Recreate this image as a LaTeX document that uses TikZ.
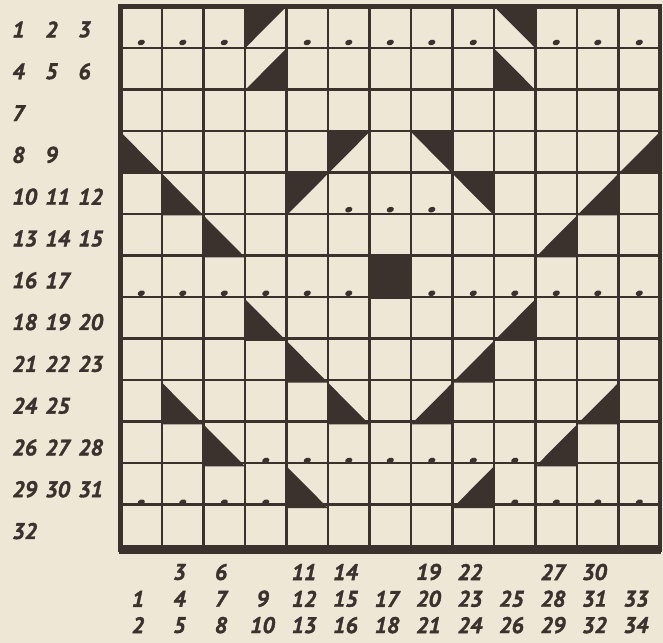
\documentclass[tikz,border=0pt]{standalone}
\usepackage{fontspec}
\newfontfamily\wvhand{PT Sans Bold Italic}[FakeBold=1.6]
\usepackage{tikz}
\definecolor{wvink}{HTML}{3C322D}
\definecolor{wvpaper}{HTML}{EEE7D6}

\begin{document}
\begin{tikzpicture}[x=1cm,y=1.0072cm,
  num/.style={font=\fontsize{15.5}{15.5}\selectfont\wvhand,text=wvink,inner sep=0pt}]
  \fill[wvpaper] (-2.904,0.1555) rectangle (13.072,-15.227);
  \useasboundingbox (-2.904,0.1555) rectangle (13.072,-15.227);
  % half squares
  \foreach \c/\r in {3/0,5/3,4/4}{\fill[wvink] (\c,-\r) -- (\c+1,-\r) -- (\c,-\r-1) -- cycle;}
  \foreach \c/\r in {9/0,7/3,8/4}{\fill[wvink] (\c,-\r) -- (\c+1,-\r) -- (\c+1,-\r-1) -- cycle;}
  \foreach \c/\r in {9/1,0/3,1/4,2/5,3/7,4/8,1/9,5/9,2/10,4/11}{\fill[wvink] (\c,-\r) -- (\c,-\r-1) -- (\c+1,-\r-1) -- cycle;}
  \foreach \c/\r in {3/1,12/3,11/4,10/5,9/7,8/8,7/9,11/9,10/10,8/11}{\fill[wvink] (\c+1,-\r) -- (\c+1,-\r-1) -- (\c,-\r-1) -- cycle;}
  \fill[wvink] (6,-6) rectangle (7,-7);
  \draw[wvink,line width=2pt] (0,0) grid (13,-13);
  \draw[wvink,line width=3pt] (0,0) rectangle (13,-13);
  \draw[wvink,line width=4.5pt] (-0.03,-13.02) -- (13.03,-13.02);
  % dots
  \foreach \r/\cols in {0/{0,1,2,4,5,6,7,8,10,11,12},4/{5,6,7},6/{0,1,2,3,4,5,7,8,9,10,11,12},10/{3,4,5,6,7,8,9},11/{0,1,2,3,9,10,11,12}}{
    \foreach \c in \cols {\fill[wvink,rotate around={20:(\c+0.5,-\r-0.86)}] (\c+0.5,-\r-0.86) ellipse (0.09 and 0.065);}
  }
  % row numbers
  \foreach \r/\a/\b/\d in {0/1/2/3,1/4/5/6,2/7//,3/8/9/,4/10/11/12,5/13/14/15,6/16/17/,7/18/19/20,8/21/22/23,9/24/25/,10/26/27/28,11/29/30/31,12/32//}{
    \node[num,anchor=west] (ra\r) at (-2.614,-\r-0.55) {\a};
    \node[num,anchor=west] (rb\r) at (-1.819,-\r-0.55) {\b};
    \node[num,anchor=west] (rc\r) at (-1.024,-\r-0.55) {\d};
  }
  % column numbers
  \foreach \c/\a/\b/\d in {0//1/2,1/3/4/5,2/6/7/8,3//9/10,4/11/12/13,5/14/15/16,6//17/18,7/19/20/21,8/22/23/24,9//25/26,10/27/28/29,11/30/31/32,12//33/34}{
    \node[num] (ca\c) at (\c+0.42,-13.53) {\a};
    \node[num] (cb\c) at (\c+0.42,-14.17) {\b};
    \node[num] (cc\c) at (\c+0.42,-14.80) {\d};
  }
\end{tikzpicture}
\end{document}
